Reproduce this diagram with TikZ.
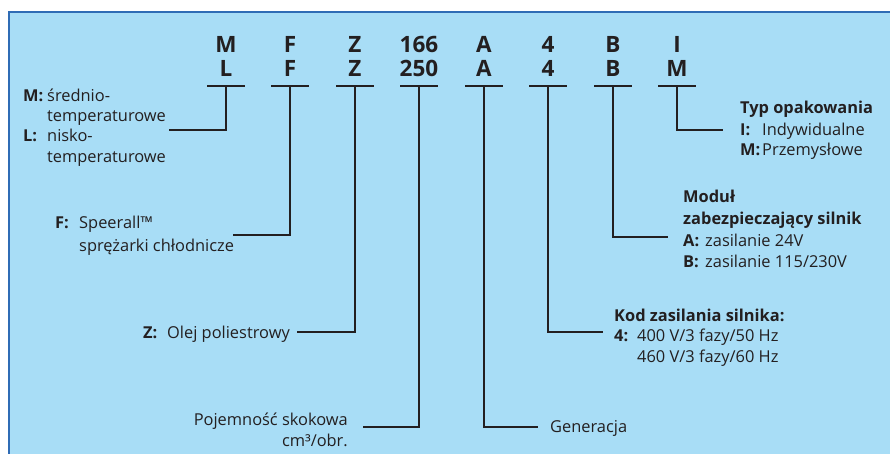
\documentclass[tikz,border=0pt]{standalone}
\usepackage{fontspec}
\setmainfont{Open Sans}
\definecolor{bgblue}{HTML}{A8DDF6}
\definecolor{edgeblue}{HTML}{2F6CB5}
\definecolor{ink}{HTML}{231F20}
\begin{document}
\begin{tikzpicture}[x=1pt,y=-1pt,
  code/.style={text=ink,font=\fontsize{22.5}{22.5}\selectfont\bfseries,inner sep=0pt,anchor=base},
  lab/.style={text=ink,font=\fontsize{16.4}{16.4}\selectfont,inner sep=0pt,anchor=base west},
  labr/.style={lab,anchor=base east},
  bar/.style={draw=ink,line width=2.4pt},
  conn/.style={draw=ink,line width=2.2pt}]
\useasboundingbox (0,0) rectangle (890,454);
\fill[bgblue] (8,11) rectangle (890,454);
\draw[edgeblue,line width=1.6pt] (8.8,454) -- (8.8,11.8) -- (890,11.8);
% codes
\foreach \n/\x/\a/\b in {1/226/M/L,2/290/F/F,3/355/Z/Z,4/419/166/250,5/484/A/A,6/548/4/4,7/613/B/B,8/677/I/M}{
  \node[code] (t\n) at (\x,53) {\a};
  \node[code] (u\n) at (\x,77) {\b};
  \coordinate (b\n) at (\x,86);
  \draw[bar] ([xshift=-19pt]b\n) -- ([xshift=19pt]b\n);
}
% free ends of connectors
\coordinate (e1) at (169,130);
\coordinate (e2) at (233,235);
\coordinate (e3) at (297,332);
\coordinate (e4) at (363,427);
\coordinate (e5) at (538,427);
\coordinate (e6) at (603,332);
\coordinate (e7) at (668,237);
\coordinate (e8) at (723,130);
\foreach \n in {1,...,8}{\draw[conn] (b\n) |- (e\n);}
% left block
\node[lab] (k1a) at (23,102) {\textbf{M:}};
\node[lab] (l1a) at (47,102) {średnio-};
\node[lab] (l1b) at (47,122) {temperaturowe};
\node[lab] (k1b) at (23,142) {\textbf{L:}};
\node[lab] (l1c) at (47,142) {nisko-};
\node[lab] (l1d) at (47,163) {temperaturowe};
% F
\node[lab] (k2) at (55,229) {\textbf{F:}};
\node[lab] (l2a) at (79,229) {Speerall™};
\node[lab] (l2b) at (79,251) {sprężarki chłodnicze};
% Z
\node[lab] (k3) at (143,338) {\textbf{Z:}};
\node[lab] (l3) at (167,338) {Olej poliestrowy};
% displacement
\node[labr] (l4a) at (348,425) {Pojemność skokowa};
\node[labr] (l4b) at (348,446) {cm³/obr.};
% generation
\node[lab] (l5) at (550,432) {Generacja};
% motor code
\node[lab] (h6) at (614,321) {\textbf{Kod zasilania silnika:}};
\node[lab] (k6) at (614,341) {\textbf{4:}};
\node[lab] (l6a) at (637,341) {400 V/3 fazy/50 Hz};
\node[lab] (l6b) at (637,362) {460 V/3 fazy/60 Hz};
% protection module
\node[lab] (h7a) at (683,203) {\textbf{Moduł}};
\node[lab] (h7b) at (683,224) {\textbf{zabezpieczający silnik}};
\node[lab] (k7a) at (683,246) {\textbf{A:}};
\node[lab] (l7a) at (705,246) {zasilanie 24V};
\node[lab] (k7b) at (683,267) {\textbf{B:}};
\node[lab] (l7b) at (705,267) {zasilanie 115/230V};
% packaging
\node[lab] (h8) at (740,114) {\textbf{Typ opakowania}};
\node[lab] (k8a) at (740,136) {\textbf{I:}};
\node[lab] (l8a) at (762,136) {Indywidualne};
\node[lab] (k8b) at (740,156) {\textbf{M:}};
\node[lab] (l8b) at (762,156) {Przemysłowe};
\end{tikzpicture}
\end{document}
